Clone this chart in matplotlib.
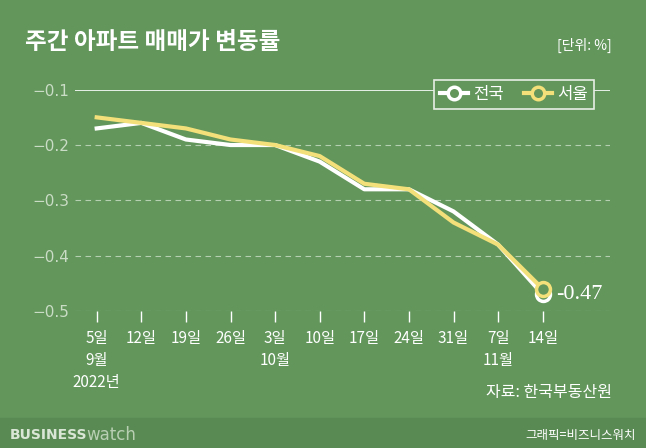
import matplotlib
matplotlib.use("Agg")
import matplotlib.pyplot as plt
import numpy as np
from matplotlib.lines import Line2D

plt.rcParams['font.family'] = ['Noto Sans CJK KR', 'DejaVu Sans']

# data
weeks = ["5일\n9월\n2022년", "12일", "19일", "26일", "3일\n10월", "10일",
         "17일", "24일", "31일", "7일\n11월", "14일"]
national = [-0.17, -0.16, -0.19, -0.20, -0.20, -0.23, -0.28, -0.28, -0.32, -0.38, -0.47]
seoul = [-0.15, -0.16, -0.17, -0.19, -0.20, -0.22, -0.27, -0.28, -0.34, -0.38, -0.46]
yticks = [-0.1, -0.2, -0.3, -0.4, -0.5]

bg = "#62965b"
yellow = "#f3e07a"

fig = plt.figure(figsize=(6.46, 4.48), dpi=100)
fig.patch.set_facecolor(bg)
W, H = 646, 448

# bottom band
fig.patches.append(plt.Rectangle((0, 0), 1, 30 / H, transform=fig.transFigure,
                                 color="#5a8a53", zorder=0))

x = np.arange(len(weeks))
px0, dpx = 96.7, 44.6
left_px, right_px = 75, 610
ax = fig.add_axes([left_px / W, 1 - 311 / H, (right_px - left_px) / W, (311 - 89.7) / H])
ax.set_facecolor(bg)
ax.set_xlim((left_px - px0) / dpx, (right_px - px0) / dpx)
ax.set_ylim(-0.5, -0.1)
for s in ax.spines.values():
    s.set_visible(False)

for v in yticks:
    if v == -0.1:
        ax.axhline(v, color="white", lw=1.2, zorder=1)
    else:
        ax.axhline(v, color="#b5cfb0", lw=0.8, ls=(0, (5, 4)), zorder=1)

ax.plot(x, national, color="white", lw=3, zorder=3, solid_joinstyle="round")
ax.plot(x, seoul, color=yellow, lw=3, zorder=4, solid_joinstyle="round")
ax.plot(x[-1], national[-1], 'o', ms=10, mfc=bg, mec="white", mew=2.5, zorder=5, clip_on=False)
ax.plot(x[-1], seoul[-1], 'o', ms=10, mfc=bg, mec=yellow, mew=2.5, zorder=6, clip_on=False)
ax.text(x[-1] + 0.3, national[-1], "-0.47", family="Liberation Serif", fontsize=16,
        color="white", va="center", ha="left")

ax.set_yticks(yticks)
ax.set_yticklabels(["\u22120.1", "\u22120.2", "\u22120.3", "\u22120.4", "\u22120.5"],
                   family="DejaVu Sans")
ax.tick_params(axis="y", length=0, pad=4, labelsize=11, labelcolor="#cadcc5")
ax.set_xticks(x)
ax.set_xticklabels(weeks, linespacing=1.35, fontweight="medium")
ax.tick_params(axis="x", length=8, width=1, color="white", pad=6, labelsize=11,
               labelcolor="white", direction="out")

# legend
handles = [Line2D([], [], color="white", lw=3, marker='o', ms=9, mfc=bg, mec="white", mew=2.5),
           Line2D([], [], color=yellow, lw=3, marker='o', ms=9, mfc=bg, mec=yellow, mew=2.5)]
leg = ax.legend(handles, ["전국", "서울"], loc="upper right", bbox_to_anchor=(0.985, 1.08),
                ncol=2, frameon=True, handlelength=1.7, handletextpad=0.3,
                columnspacing=1.2, borderpad=0.35, fancybox=False, labelcolor="white",
                prop={"size": 12, "weight": "medium"})
leg.get_frame().set_facecolor(bg)
leg.get_frame().set_edgecolor("#e8efe6")
leg.get_frame().set_linewidth(1.2)
leg.get_frame().set_alpha(1)
leg.set_zorder(10)

fig.text(25 / W, 1 - 42 / H, "주간 아파트 매매가 변동률", fontsize=17, fontweight="bold",
         color="white", va="center", ha="left")
fig.text(612 / W, 1 - 45 / H, "[단위: %]", fontsize=10, fontweight="medium", color="white",
         va="center", ha="right")
fig.text(612 / W, 1 - 392 / H, "자료: 한국부동산원", fontsize=11.5, fontweight="medium",
         color="white", va="center", ha="right")
fig.text(10 / W, 1 - 435 / H, "BUSINESS", fontsize=10, fontweight="bold", color="#d9e6d6",
         va="center", ha="left", family="DejaVu Sans")
fig.text(86 / W, 1 - 435 / H, "watch", fontsize=12, color="#b8cfb3", va="center", ha="left",
         family="DejaVu Sans")
fig.text(636 / W, 1 - 435 / H, "그래픽=비즈니스워치", fontsize=9, color="white",
         va="center", ha="right")

fig.savefig("out.png", dpi=100, facecolor=bg)
